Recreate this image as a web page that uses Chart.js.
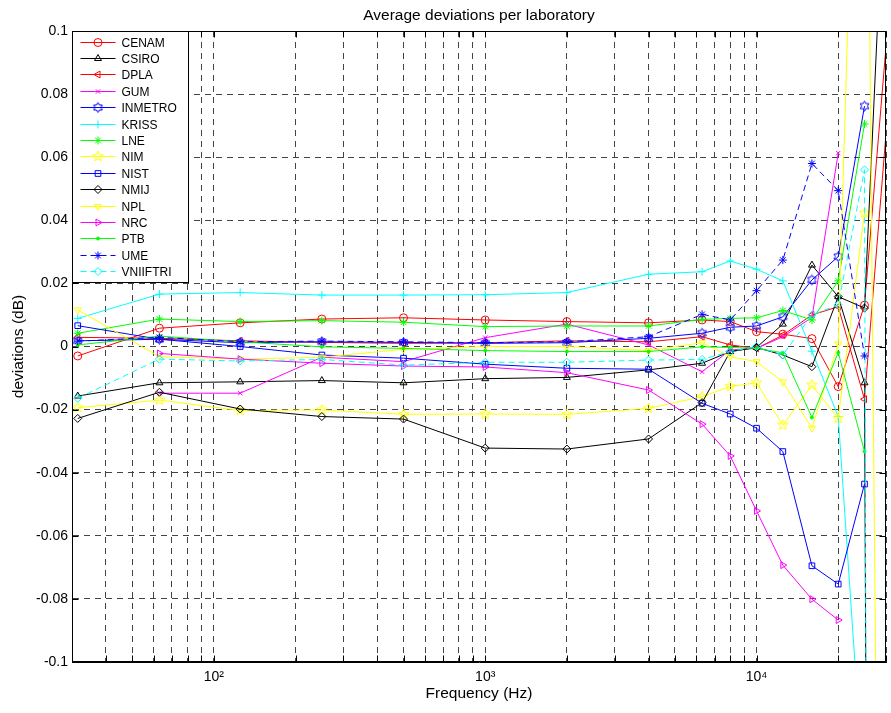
<!DOCTYPE html>
<html>
<head>
<meta charset="utf-8">
<script src="https://cdn.jsdelivr.net/npm/chart.js@4.4.1/dist/chart.umd.min.js"></script>
<style>
  html, body { margin: 0; padding: 0; background: #fff; }
  #wrap { width: 891px; height: 713px; }
</style>
</head>
<body>
<div id="wrap"><canvas id="chart" width="891" height="713"></canvas></div>
<script>
// Frequencies (Hz) of the measurement points
const freqs = [31.5, 63, 125, 250, 500, 1000, 2000, 4000, 6300, 8000, 10000, 12500, 16000, 20000, 25000, 31500];

// Average deviation (dB) per laboratory
const CENAM    = [-0.003, 0.0058, 0.0075, 0.0087, 0.0091, 0.0084, 0.0079, 0.0075, 0.0084, 0.0079, 0.0047, 0.0039, 0.0025, -0.0127, 0.0131, 0.117];
const CSIRO    = [-0.0157, -0.0115, -0.0112, -0.0108, -0.0115, -0.0102, -0.0098, -0.0074, -0.0053, -0.0016, -0.0003, 0.0071, 0.0258, 0.0158, -0.0115, -2.0];
const DPLA     = [0.0029, 0.0026, 0.0018, 0.0013, 0.001, 0.0012, 0.0018, 0.0015, 0.0031, 0.0005, -0.0006, 0.0036, 0.01, 0.0126, -0.0167, 0.09];
const GUM      = [null, -0.0148, -0.0148, -0.0034, -0.0048, 0.0028, 0.0071, 0.0005, -0.008, -0.0011, -0.0006, 0.0031, 0.0092, 0.0613, null, null];
const INMETRO  = [0.0018, 0.0023, 0.0012, 0.0015, 0.0013, 0.001, 0.0012, 0.0026, 0.0042, 0.0061, 0.0065, 0.0094, 0.0211, 0.0285, 0.0762, null];
const KRISS    = [0.0089, 0.0166, 0.0171, 0.0163, 0.0163, 0.0164, 0.0171, 0.0229, 0.0237, 0.0271, 0.0245, 0.0208, -0.0015, -0.0222, -0.145, null];
const LNE      = [0.0042, 0.0087, 0.0079, 0.0082, 0.0077, 0.0063, 0.0065, 0.0065, 0.0086, 0.0089, 0.0091, 0.0114, 0.0084, 0.0208, 0.0705, null];
const NIM      = [-0.0194, -0.017, -0.0203, -0.0201, -0.0215, -0.0214, -0.0215, -0.0196, -0.0159, -0.0127, -0.0115, -0.0249, -0.0122, -0.0228, 0.0423, null];
const NIST     = [0.0066, 0.0023, 0, -0.0027, -0.0037, -0.0056, -0.0069, -0.0072, -0.018, -0.0214, -0.0259, -0.0333, -0.0695, -0.0753, -0.0436, null];
const NMIJ     = [-0.0228, -0.0145, -0.0198, -0.0222, -0.023, -0.0322, -0.0325, -0.0293, -0.0178, -0.0016, -0.0003, -0.0027, -0.0064, 0.0158, 0.0122, 0.2];
const NPL      = [0.0116, -0.0032, -0.004, -0.0034, -0.0009, 0, 0, -0.0013, 0.0012, -0.0032, -0.0048, -0.0112, -0.0259, 0.0008, 0.28, -0.65];
const NRC      = [null, -0.0022, -0.004, -0.0053, -0.0062, -0.0065, -0.0083, -0.0138, -0.0246, -0.0347, -0.0521, -0.0693, -0.0801, -0.0867, null, null];
const PTB      = [0.0005, 0.0033, 0.0015, -0.0001, -0.0006, -0.0013, -0.0016, -0.0016, -0.0001, -0.0003, -0.0006, -0.002, -0.0225, -0.0019, -0.0333, null];
const UME      = [0.0017, 0.0029, 0.0015, 0.0017, 0.0015, 0.0012, 0.0015, 0.0031, 0.0102, 0.0084, 0.0177, 0.0274, 0.058, 0.0494, -0.003, null];
const VNIIFTRI = [-0.0164, -0.004, -0.0046, -0.0041, -0.0059, -0.005, -0.005, -0.0043, -0.0041, -0.0016, 0, -0.0027, 0.01, 0.0132, 0.056, -3.0];

const labNames = ['CENAM', 'CSIRO', 'DPLA', 'GUM', 'INMETRO', 'KRISS', 'LNE', 'NIM', 'NIST', 'NMIJ', 'NPL', 'NRC', 'PTB', 'UME', 'VNIIFTRI'];
const labValues = [CENAM, CSIRO, DPLA, GUM, INMETRO, KRISS, LNE, NIM, NIST, NMIJ, NPL, NRC, PTB, UME, VNIIFTRI];

// axis ticks
const yTicks = [-0.1, -0.08, -0.06, -0.04, -0.02, 0, 0.02, 0.04, 0.06, 0.08, 0.1];
const xMajorTicks = [100, 1000, 10000];
const xMajorLabels = ['10\u00B2', '10\u00B3', '10\u2074'];

const FONT = '"Liberation Sans", Arial, Helvetica, sans-serif';
Chart.defaults.font.family = FONT;
Chart.defaults.color = '#000';

// outline star markers (MATLAB 'p' and 'h')
function starCanvas(points, outer, inner, color) {
  const size = 13;
  const c = document.createElement('canvas');
  c.width = size; c.height = size;
  const g = c.getContext('2d');
  g.strokeStyle = color;
  g.lineWidth = 1;
  g.beginPath();
  for (let k = 0; k < points * 2; k++) {
    const r = k % 2 ? inner : outer;
    const ang = -Math.PI / 2 + k * Math.PI / points;
    const px = size / 2 + r * Math.cos(ang), py = size / 2 + r * Math.sin(ang);
    if (k === 0) g.moveTo(px, py); else g.lineTo(px, py);
  }
  g.closePath();
  g.stroke();
  return c;
}

const RED = '#ff0000', BLACK = '#000000', MAGENTA = '#ff00ff', BLUE = '#0000ff',
      CYAN = '#00ffff', GREEN = '#00ff00', YELLOW = '#ffff00';

const labStyles = {
  CENAM:    { color: RED, marker: 'circle' },
  CSIRO:    { color: BLACK, marker: 'triangle' },
  DPLA:     { color: RED, marker: 'triangle', rot: -90 },
  GUM:      { color: MAGENTA, marker: 'crossRot', radius: 3 },
  INMETRO:  { color: BLUE, marker: starCanvas(6, 5, 2.9, BLUE) },
  KRISS:    { color: CYAN, marker: 'cross' },
  LNE:      { color: GREEN, marker: 'star' },
  NIM:      { color: YELLOW, marker: starCanvas(5, 5.5, 2.3, YELLOW) },
  NIST:     { color: BLUE, marker: 'rect' },
  NMIJ:     { color: BLACK, marker: 'rectRot' },
  NPL:      { color: YELLOW, marker: 'triangle', rot: 180 },
  NRC:      { color: MAGENTA, marker: 'triangle', rot: 90 },
  PTB:      { color: GREEN, marker: 'circle', radius: 1.5, filled: true },
  UME:      { color: BLUE, marker: 'star', dash: [6, 4] },
  VNIIFTRI: { color: CYAN, marker: 'rectRot', dash: [6, 4] }
};

const datasets = labNames.map((name, i) => {
  const st = labStyles[name];
  return {
    label: name,
    data: freqs.map((f, j) => ({ x: f, y: labValues[i][j] })),
    borderColor: st.color,
    backgroundColor: st.color,
    borderWidth: 1,
    borderDash: st.dash || [],
    pointStyle: st.marker,
    pointRotation: st.rot || 0,
    pointRadius: st.radius || 4,
    pointBorderWidth: 1,
    pointBorderColor: st.color,
    pointBackgroundColor: st.filled ? st.color : 'rgba(0,0,0,0)',
    tension: 0,
    spanGaps: false,
    order: labNames.length - i
  };
});

// plot title
const titlePlugin = {
  id: 'plotTitle',
  afterDraw(chart) {
    const { ctx, chartArea: a } = chart;
    ctx.save();
    ctx.font = '15.5px ' + FONT;
    ctx.fillStyle = '#000';
    ctx.textAlign = 'center';
    ctx.textBaseline = 'middle';
    ctx.fillText('Average deviations per laboratory', (a.left + a.right) / 2, 15.5);
    ctx.restore();
  }
};

// box around the axes and inward tick marks
const framePlugin = {
  id: 'frame',
  afterDatasetsDraw(chart) {
    const { ctx, chartArea: a, scales: { x, y } } = chart;
    const L = Math.round(a.left) + 0.5, R = Math.round(a.right) - 0.5;
    const T = Math.round(a.top) + 0.5, B = Math.round(a.bottom) - 0.5;
    ctx.save();
    ctx.strokeStyle = '#000';
    ctx.lineWidth = 1;
    ctx.beginPath();
    x.ticks.forEach(t => {
      const px = Math.round(x.getPixelForValue(t.value)) + 0.5;
      ctx.moveTo(px, B); ctx.lineTo(px, B - 6);
      ctx.moveTo(px, T); ctx.lineTo(px, T + 6);
    });
    y.ticks.forEach(t => {
      const py = Math.round(y.getPixelForValue(t.value)) + 0.5;
      ctx.moveTo(L, py); ctx.lineTo(L + 6, py);
      ctx.moveTo(R, py); ctx.lineTo(R - 6, py);
    });
    ctx.stroke();
    ctx.strokeRect(L, T, R - L, B - T);
    ctx.restore();
  }
};

// legend box in the upper left corner of the axes
const legendPlugin = {
  id: 'insetLegend',
  afterDraw(chart) {
    const { ctx, chartArea: a } = chart;
    const left = Math.round(a.left) + 0.5, top = Math.round(a.top) + 0.5;
    const w = 116, h = 251;
    ctx.save();
    ctx.fillStyle = '#fff';
    ctx.fillRect(left, top, w, h);
    ctx.strokeStyle = '#000';
    ctx.lineWidth = 1;
    ctx.strokeRect(left, top, w, h);
    chart.data.datasets.forEach((ds, i) => {
      const yy = Math.round(top + 10 + i * 16.4) + 0.5;
      ctx.lineWidth = 1;
      ctx.strokeStyle = ds.borderColor;
      ctx.setLineDash(ds.borderDash || []);
      ctx.beginPath();
      ctx.moveTo(left + 8, yy);
      ctx.lineTo(left + 43, yy);
      ctx.stroke();
      ctx.setLineDash([]);
      ctx.fillStyle = ds.pointBackgroundColor;
      ctx.strokeStyle = ds.pointBorderColor;
      if (Chart.helpers && Chart.helpers.drawPoint) {
        Chart.helpers.drawPoint(ctx, {
          pointStyle: ds.pointStyle, rotation: ds.pointRotation,
          radius: ds.pointRadius, borderWidth: 1
        }, left + 25.5, yy);
      }
      ctx.fillStyle = '#000';
      ctx.font = '12px ' + FONT;
      ctx.textAlign = 'left';
      ctx.textBaseline = 'middle';
      ctx.fillText(ds.label, left + 49, yy + 1);
    });
    ctx.restore();
  }
};

new Chart(document.getElementById('chart'), {
  type: 'line',
  data: { datasets },
  options: {
    responsive: false,
    animation: false,
    events: [],
    layout: { padding: { top: 31, right: 0, left: 0, bottom: 0 } },
    plugins: {
      legend: { display: false },
      tooltip: { enabled: false },
      title: { display: false }
    },
    scales: {
      x: {
        type: 'logarithmic',
        min: 30,
        max: 30000,
        afterBuildTicks: scale => {
          const vals = [];
          [10, 100, 1000, 10000].forEach(dec => {
            for (let m = 1; m <= 9; m++) {
              const v = m * dec;
              if (v >= 30 && v <= 30000) vals.push(v);
            }
          });
          scale.ticks = vals.map(v => ({ value: v }));
        },
        afterFit: scale => {
          scale.height = 51;
          scale.paddingLeft = 0;
          scale.paddingRight = 0;
        },
        ticks: {
          autoSkip: false,
          maxRotation: 0,
          padding: 7,
          color: '#000',
          font: { size: 14 },
          callback: v => {
            const k = xMajorTicks.indexOf(v);
            return k >= 0 ? xMajorLabels[k] : '';
          }
        },
        grid: { color: '#444', lineWidth: 1, drawTicks: false },
        border: { display: true, color: '#000', dash: [6, 5] },
        title: {
          display: true,
          text: 'Frequency (Hz)',
          color: '#000',
          font: { size: 15.5 },
          padding: { top: 0, bottom: 10 }
        }
      },
      y: {
        min: -0.1,
        max: 0.1,
        afterBuildTicks: scale => { scale.ticks = yTicks.map(v => ({ value: v })); },
        afterFit: scale => {
          scale.width = 72;
          scale.paddingTop = 0;
          scale.paddingBottom = 0;
        },
        ticks: {
          padding: 4,
          color: '#000',
          font: { size: 14 },
          callback: v => String(Math.round(v * 100) / 100)
        },
        grid: { color: '#444', lineWidth: 1, drawTicks: false },
        border: { display: true, color: '#000', dash: [6, 5] },
        title: {
          display: true,
          text: 'deviations (dB)',
          color: '#000',
          font: { size: 15.5 },
          padding: { top: 9, bottom: 0 }
        }
      }
    }
  },
  plugins: [framePlugin, legendPlugin, titlePlugin]
});
</script>
</body>
</html>
